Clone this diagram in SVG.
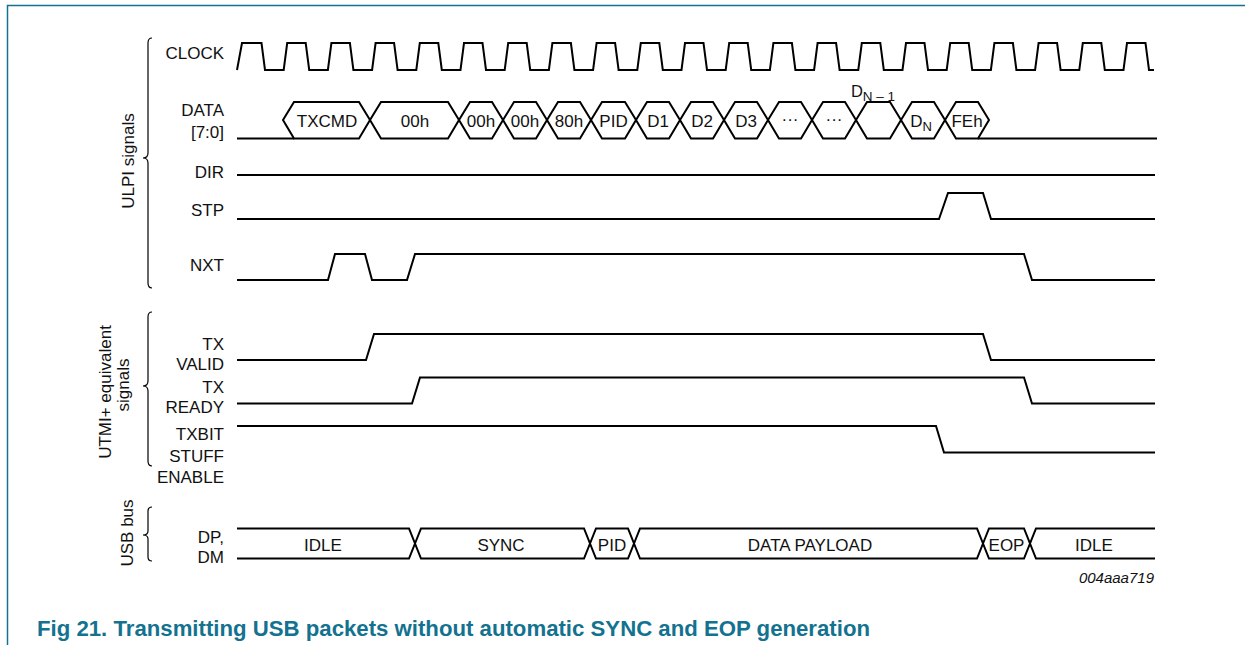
<svg xmlns="http://www.w3.org/2000/svg" width="1245" height="645" viewBox="0 0 1245 645">
<style>
.sig{fill:none;stroke:#000;stroke-width:2;stroke-linejoin:miter}
.hex{fill:none;stroke:#000;stroke-width:2;stroke-linejoin:miter}
.brace{fill:none;stroke:#000;stroke-width:1.2}
.lbl{font-family:"Liberation Sans",Arial,sans-serif;font-size:17px;fill:#111;text-anchor:end}
.txt{font-family:"Liberation Sans",Arial,sans-serif;font-size:17px;fill:#111;text-anchor:middle}
.grp{font-family:"Liberation Sans",Arial,sans-serif;font-size:17px;fill:#111;text-anchor:middle}
.frame{fill:none;stroke:#137290;stroke-width:1.5}
.cap{font-family:"Liberation Sans",Arial,sans-serif;font-size:22.2px;font-weight:bold;fill:#137290}
.code{font-family:"Liberation Sans",Arial,sans-serif;font-size:15px;font-style:italic;fill:#111;text-anchor:end}
</style>
<rect width="1245" height="645" fill="#fff"/>
<path class="frame" d="M7.5,645 V5.5 H1245"/>

<g id="groups">
  <path class="brace" d="M152,38 Q148,38 148,43 V153 Q148,158 143,158 Q148,158 148,163 V283 Q148,288 152,288"/>
  <text class="grp" transform="translate(134,161) rotate(-90)">ULPI signals</text>
  <path class="brace" d="M152,312 Q148,312 148,317 V381 Q148,386 143,386 Q148,386 148,391 V461 Q148,466 152,466"/>
  <text class="grp" transform="translate(111,392) rotate(-90)">UTMI+ equivalent</text>
  <text class="grp" transform="translate(129,385) rotate(-90)">signals</text>
  <path class="brace" d="M152,507 Q148,507 148,511 V531 Q148,535 143,535 Q148,535 148,539 V557 Q148,561 152,561"/>
  <text class="grp" transform="translate(133,533) rotate(-90)">USB bus</text>
</g>

<g id="clock">
  <text class="lbl" x="224" y="59">CLOCK</text>
  <path class="sig" d="M237,70 L242,43 H261.5 L265,70 h18.7 l3.5,-27 h18.5 l3.5,27 h18.7 l3.5,-27 h18.5 l3.5,27 h18.7 l3.5,-27 h18.5 l3.5,27 h18.7 l3.5,-27 h18.5 l3.5,27 h18.7 l3.5,-27 h18.5 l3.5,27 h18.7 l3.5,-27 h18.5 l3.5,27 h18.7 l3.5,-27 h18.5 l3.5,27 h18.7 l3.5,-27 h18.5 l3.5,27 h18.7 l3.5,-27 h18.5 l3.5,27 h18.7 l3.5,-27 h18.5 l3.5,27 h18.7 l3.5,-27 h18.5 l3.5,27 h18.7 l3.5,-27 h18.5 l3.5,27 h18.7 l3.5,-27 h18.5 l3.5,27 h18.7 l3.5,-27 h18.5 l3.5,27 h18.7 l3.5,-27 h18.5 l3.5,27 h18.7 l3.5,-27 h18.5 l3.5,27 h18.7 l3.5,-27 h18.5 l3.5,27 h18.7 l3.5,-27 h18.5 l3.5,27 h18.7 l3.5,-27 h18.5 l3.5,27 h18.7 l3.5,-27 h18.5 l3.5,27 h5"/>
</g>

<g id="data">
  <text class="lbl" x="224" y="116">DATA</text>
  <text class="lbl" x="224" y="138">[7:0]</text>
  <path class="sig" d="M237,138.5 H294"/>
  <path class="sig" d="M978,138.5 H1157"/>
  <path class="hex" d="M283,120 L294,102 H359 L370,120 L359,138.5 H294 Z"/>
  <path class="hex" d="M370,120 L381,102 H448 L459,120 L448,138.5 H381 Z"/>
  <path class="hex" d="M459,120 L470,102 H492 L503,120 L492,138.5 H470 Z"/>
  <path class="hex" d="M503,120 L514,102 H536 L547,120 L536,138.5 H514 Z"/>
  <path class="hex" d="M547,120 L558,102 H580 L591,120 L580,138.5 H558 Z"/>
  <path class="hex" d="M591,120 L602,102 H625 L636,120 L625,138.5 H602 Z"/>
  <path class="hex" d="M636,120 L647,102 H669 L680,120 L669,138.5 H647 Z"/>
  <path class="hex" d="M680,120 L691,102 H713 L724,120 L713,138.5 H691 Z"/>
  <path class="hex" d="M724,120 L735,102 H757 L768,120 L757,138.5 H735 Z"/>
  <path class="hex" d="M768,120 L779,102 H801 L812,120 L801,138.5 H779 Z"/>
  <path class="hex" d="M812,120 L823,102 H845 L856,120 L845,138.5 H823 Z"/>
  <path class="hex" d="M856,120 L867,102 H890 L901,120 L890,138.5 H867 Z"/>
  <path class="hex" d="M901,120 L912,102 H934 L945,120 L934,138.5 H912 Z"/>
  <path class="hex" d="M945,120 L956,102 H978 L989,120 L978,138.5 H956 Z"/>
  <text class="txt" x="327" y="127">TXCMD</text>
  <text class="txt" x="415" y="127">00h</text>
  <text class="txt" x="481" y="127">00h</text>
  <text class="txt" x="525" y="127">00h</text>
  <text class="txt" x="569" y="127">80h</text>
  <text class="txt" x="613.5" y="127">PID</text>
  <text class="txt" x="658" y="127">D1</text>
  <text class="txt" x="702" y="127">D2</text>
  <text class="txt" x="746" y="127">D3</text>
  <text class="txt" x="790" y="125">···</text>
  <text class="txt" x="834" y="125">···</text>
  <text class="txt" x="873" y="97" style="font-size:16.5px">D<tspan style="font-size:13.5px" dy="4">N – 1</tspan></text>
  <text class="txt" x="921" y="127">D<tspan style="font-size:13px" dy="4">N</tspan></text>
  <text class="txt" x="967" y="127">FEh</text>
</g>

<g id="dir">
  <text class="lbl" x="224" y="178">DIR</text>
  <path class="sig" d="M237,175 H1155"/>
</g>

<g id="stp">
  <text class="lbl" x="224" y="216">STP</text>
  <path class="sig" d="M237,219 H939 L948,193 H983 L991,219 H1155"/>
</g>

<g id="nxt">
  <text class="lbl" x="224" y="271">NXT</text>
  <path class="sig" d="M237,280 H328 L335,254 H365 L372,280 H407 L415,254 H1024 L1032,280 H1155"/>
</g>

<g id="txvalid">
  <text class="lbl" x="224" y="350">TX</text>
  <text class="lbl" x="224" y="370">VALID</text>
  <path class="sig" d="M237,360 H366 L374,334 H983 L991,360 H1155"/>
</g>

<g id="txready">
  <text class="lbl" x="224" y="393">TX</text>
  <text class="lbl" x="224" y="413">READY</text>
  <path class="sig" d="M237,403.5 H412 L420,377.5 H1024 L1032,403.5 H1155"/>
</g>

<g id="txbitstuff">
  <text class="lbl" x="224" y="440">TXBIT</text>
  <text class="lbl" x="224" y="462">STUFF</text>
  <text class="lbl" x="224" y="483">ENABLE</text>
  <path class="sig" d="M237,426 H936 L944,452.5 H1155"/>
</g>

<g id="usb">
  <text class="lbl" x="224" y="543">DP,</text>
  <text class="lbl" x="224" y="563">DM</text>
  <path class="hex" d="M237,528.5 H409 L415,543.5 L409,558.5 H237"/>
  <path class="hex" d="M415,543.5 L421,528.5 H584 L590,543.5 L584,558.5 H421 Z"/>
  <path class="hex" d="M590,543.5 L596,528.5 H628 L634,543.5 L628,558.5 H596 Z"/>
  <path class="hex" d="M634,543.5 L640,528.5 H977 L983,543.5 L977,558.5 H640 Z"/>
  <path class="hex" d="M983,543.5 L989,528.5 H1024 L1030,543.5 L1024,558.5 H989 Z"/>
  <path class="hex" d="M1155,528.5 H1036 L1030,543.5 L1036,558.5 H1155"/>
  <text class="txt" x="323" y="550.5">IDLE</text>
  <text class="txt" x="501" y="550.5">SYNC</text>
  <text class="txt" x="612" y="550.5">PID</text>
  <text class="txt" x="810" y="550.5">DATA PAYLOAD</text>
  <text class="txt" x="1006.5" y="550.5">EOP</text>
  <text class="txt" x="1094" y="550.5">IDLE</text>
</g>

<text class="code" x="1154" y="583">004aaa719</text>
<text class="cap" x="37" y="636">Fig 21. Transmitting USB packets without automatic SYNC and EOP generation</text>
</svg>
